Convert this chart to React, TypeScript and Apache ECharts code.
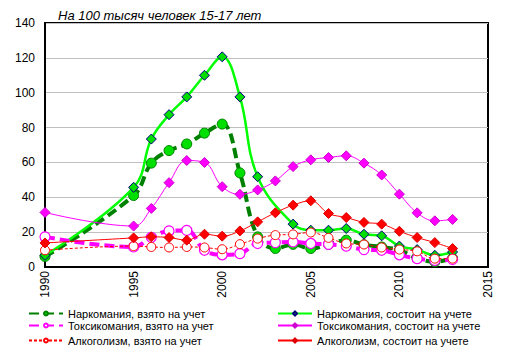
import React, { useEffect, useRef } from "react";
import * as echarts from "echarts";

const years = [1990, 1995, 1996, 1997, 1998, 1999, 2000, 2001, 2002, 2003, 2004, 2005, 2006, 2007, 2008, 2009, 2010, 2011, 2012, 2013];

const narkVzyato = [6, 41, 59.6, 66.8, 70.6, 76.8, 82, 54, 17.3, 10.6, 13, 10.6, 13, 15.4, 12.8, 11.5, 9.6, 5, 3, 5];
const narkSostoit = [6.7, 45.7, 73.4, 87.4, 97.6, 110, 120.6, 97.6, 51.8, null, 24.6, 21.1, 21.1, 22.1, 18.8, 17.9, 12, 10, 6.7, 8.6];
const toksVzyato = [17.3, 11.5, 17, 20.7, 21, 9.6, 7, 7.7, 13.5, 14, 14.4, 13.5, 13, 12, 10, 9.6, 7, 4.8, 3.8, 4.3];
const toksSostoit = [31.3, 23.5, 33.6, 48.4, 61.1, 60, 46.1, 41.7, 44.2, 49.4, 57.6, 61.5, 62.8, 63.8, 59.6, 52.8, 41.8, 31.1, 26.5, 27.3];
const alkVzyato = [9.6, 12, 11.5, 11.2, 11.5, 11.2, 10.2, 13.1, 16.3, 18.3, 18.7, 19.8, 16.7, 13.5, 12.9, 11.2, 10, 9, 4.8, 4.8];
const alkSostoit = [13.8, 16.7, 17.3, 16.9, 15.4, 18.8, 17.7, 20.7, 25.9, 31.1, 35.5, 38, 30.7, 28.4, 25.6, 24.6, 20.5, 16.9, 14, 10.6];

const seriesNames = [
  "Наркомания, взято на учет",
  "Наркомания, состоит на учете",
  "Токсикомания, взято на учет",
  "Токсикомания, состоит на учете",
  "Алкоголизм, взято на учет",
  "Алкоголизм, состоит на учете",
];

const titleText = "На 100 тысяч человек 15-17 лет";
const FONT = "'Liberation Sans', Arial, sans-serif";

function pairs(arr: (number | null)[]) {
  return years.map((y, i) => [y, arr[i]]);
}

export default function App() {
  const ref = useRef<HTMLDivElement>(null);
  useEffect(() => {
    if (!ref.current) return;
    const chart = echarts.init(ref.current, undefined, { renderer: "svg" });
    const legendPos = [
      { left: 28, top: 308 },
      { left: 277, top: 308 },
      { left: 28, top: 320 },
      { left: 277, top: 320 },
      { left: 28, top: 335 },
      { left: 277, top: 335 },
    ];
    const smooth = 0.4;
    chart.setOption({
      animation: false,
      backgroundColor: "#fff",
      textStyle: { fontFamily: FONT },
      title: {
        text: titleText,
        left: 58,
        top: 9,
        padding: 0,
        textStyle: { fontFamily: FONT, fontStyle: "italic", fontWeight: "normal", fontSize: 13, color: "#000" },
      },
      legend: seriesNames.map((n, i) => ({
        data: [n],
        left: legendPos[i].left,
        top: legendPos[i].top,
        padding: 0,
        itemGap: 0,
        itemWidth: 34,
        itemHeight: 5,
        selectedMode: false,
        textStyle: { fontFamily: FONT, fontSize: 11, color: "#000" },
      })),
      grid: {
        left: 45,
        right: 25,
        top: 23,
        bottom: 87,
        show: true,
        borderColor: "#000",
        borderWidth: 2,
        containLabel: false,
      },
      xAxis: {
        type: "value",
        min: 1990,
        max: 2015,
        interval: 5,
        axisLine: { show: true, lineStyle: { color: "#000", width: 2 } },
        axisTick: { show: false },
        splitLine: { show: false },
        axisLabel: {
          rotate: 90,
          margin: 4,
          fontSize: 12,
          color: "#000",
          fontFamily: FONT,
          formatter: (v: number) => String(v),
        },
      },
      yAxis: {
        type: "value",
        min: 0,
        max: 140,
        interval: 20,
        axisLine: { show: true, lineStyle: { color: "#000", width: 2 } },
        axisTick: { show: false },
        splitLine: { show: true, lineStyle: { color: "#c0c0c0", width: 1 } },
        axisLabel: { margin: 10, fontSize: 12, color: "#000", fontFamily: FONT },
      },
      series: [
        {
          name: seriesNames[0],
          type: "line",
          smooth,
          data: pairs(narkVzyato),
          connectNulls: true,
          symbol: "circle",
          symbolSize: 10,
          lineStyle: { color: "#008000", width: 4, type: [10, 5] },
          itemStyle: { color: "#00e000", borderColor: "#008000", borderWidth: 1 },
          z: 2,
        },
        {
          name: seriesNames[1],
          type: "line",
          smooth,
          data: pairs(narkSostoit),
          connectNulls: true,
          symbol: "diamond",
          symbolSize: 10,
          lineStyle: { color: "#00ff00", width: 2.5 },
          itemStyle: { color: "#00dd00", borderColor: "#000080", borderWidth: 1 },
          z: 3,
        },
        {
          name: seriesNames[2],
          type: "line",
          smooth,
          data: pairs(toksVzyato),
          connectNulls: true,
          symbol: "circle",
          symbolSize: 10,
          lineStyle: { color: "#ff00ff", width: 4, type: [10, 5] },
          itemStyle: { color: "#ffffff", borderColor: "#ff00ff", borderWidth: 1.2 },
          z: 4,
        },
        {
          name: seriesNames[3],
          type: "line",
          smooth,
          data: pairs(toksSostoit),
          connectNulls: true,
          symbol: "diamond",
          symbolSize: 10,
          lineStyle: { color: "#ff00ff", width: 1 },
          itemStyle: { color: "#ff00ff", borderColor: "#cc00cc", borderWidth: 1 },
          z: 5,
        },
        {
          name: seriesNames[4],
          type: "line",
          smooth,
          data: pairs(alkVzyato),
          connectNulls: true,
          symbol: "circle",
          symbolSize: 9,
          lineStyle: { color: "#ff0000", width: 1, type: [3, 2] },
          itemStyle: { color: "#ffffff", borderColor: "#ff0000", borderWidth: 1 },
          z: 6,
        },
        {
          name: seriesNames[5],
          type: "line",
          smooth,
          data: pairs(alkSostoit),
          connectNulls: true,
          symbol: "diamond",
          symbolSize: 10,
          lineStyle: { color: "#ff0000", width: 1 },
          itemStyle: { color: "#ff0000", borderColor: "#dd0000", borderWidth: 1 },
          z: 7,
        },
      ],
    });
    return () => chart.dispose();
  }, []);
  return <div ref={ref} style={{ width: 513, height: 354, position: "absolute", left: 0, top: 0 }} />;
}
